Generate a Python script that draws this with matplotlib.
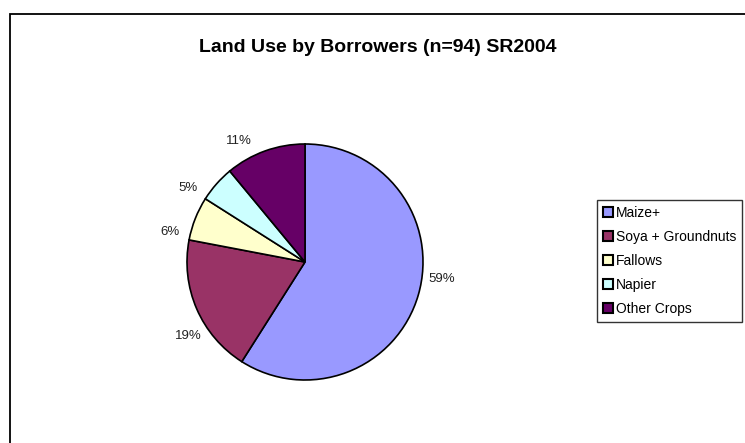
import matplotlib
matplotlib.use("Agg")
import numpy as np
import matplotlib.pyplot as plt
from matplotlib.patches import Rectangle

plt.rcParams['font.family'] = ['Liberation Sans', 'DejaVu Sans']

categories = ["Maize+", "Soya + Groundnuts", "Fallows", "Napier", "Other Crops"]
values = [59, 19, 6, 5, 11]
colors = ["#9999FF", "#993366", "#FFFFCC", "#CCFFFF", "#660066"]
title = "Land Use by Borrowers (n=94) SR2004"

W, H = 745, 443
fig = plt.figure(figsize=(W / 100, H / 100), dpi=100)

# outer chart frame (extends beyond right/bottom edges)
fig.patches.append(Rectangle((10 / W, -0.1), 1.2, 1 - 14 / H + 0.1,
                             transform=fig.transFigure, fill=False,
                             edgecolor="black", linewidth=1.3))

cx, cy, r = 305, 262, 118
ax = fig.add_axes([(cx - r) / W, (H - cy - r) / H, 2 * r / W, 2 * r / H])
wedges, texts, autotexts = ax.pie(
    values, colors=colors, startangle=90, counterclock=False,
    autopct=lambda p: f"{p:.0f}%", pctdistance=1.17,
    wedgeprops=dict(edgecolor="black", linewidth=1.2),
    textprops=dict(fontsize=9.5, color="#222222"))
# Excel-style label placement: slightly rotated from wedge middle
for w, t in zip(wedges, autotexts):
    ang = np.deg2rad((w.theta1 + w.theta2) / 2 + 9)
    t.set_position((1.17 * np.cos(ang), 1.17 * np.sin(ang)))
ax.set_xlim(-1, 1)
ax.set_ylim(-1, 1)
ax.set_aspect("equal")

fig.text(378 / W, 1 - 48 / H, title, ha="center", va="center",
         fontsize=14, fontweight="bold")

leg = fig.legend(wedges, categories, loc="upper left",
                 bbox_to_anchor=(597 / W, 1 - 200 / H), frameon=True,
                 fancybox=False, edgecolor="black", fontsize=10,
                 handlelength=0.75, handleheight=0.75, handletextpad=0.2,
                 labelspacing=0.72, borderpad=0.42, borderaxespad=0)
leg.get_frame().set_linewidth(1.0)
for h in leg.legend_handles:
    h.set_linewidth(1.5)

fig.savefig("out.png", dpi=100)
